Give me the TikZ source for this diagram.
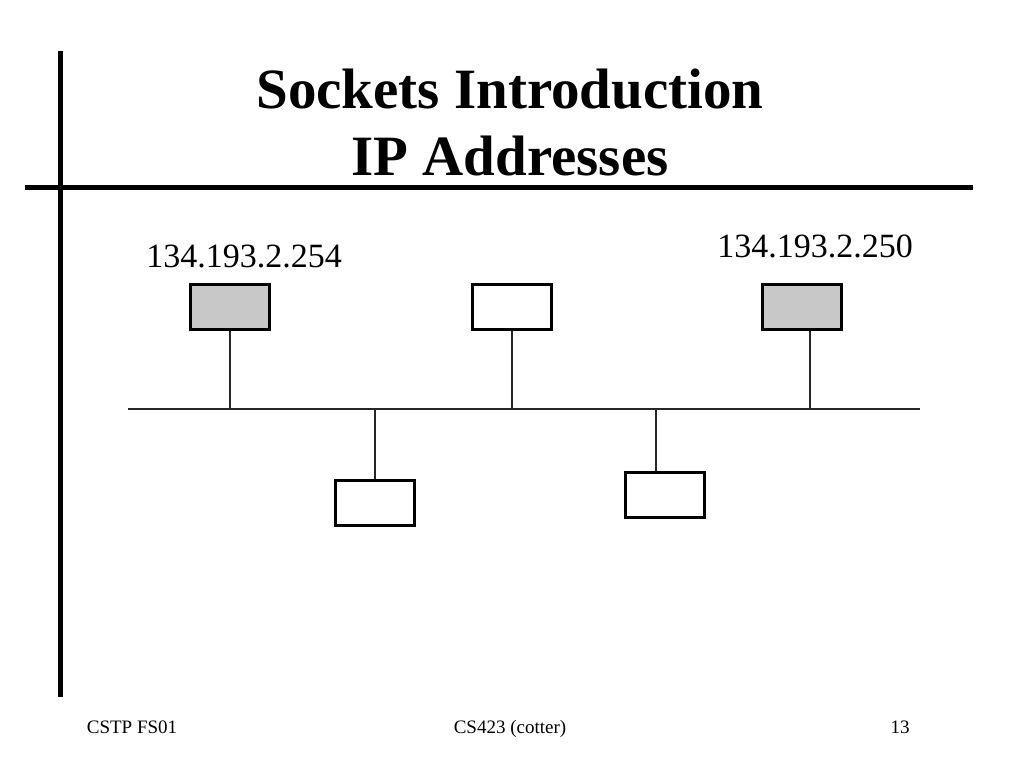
\documentclass[tikz,border=0pt]{standalone}
\usepackage{fontspec}
\setmainfont{Liberation Serif}
\usepackage{tikz}
\usetikzlibrary{positioning}
\definecolor{hostgray}{RGB}{200,200,200}
\tikzset{
x=1pt, y=-1pt, % one unit is one pixel of the slide
host/.style={draw, line width=3pt, minimum width=79pt, minimum height=45pt, inner sep=0pt}, % a machine on the net
known/.style={host, fill=hostgray}, % a machine whose address is shown
wire/.style={line width=1.3pt, draw=black!85}, % the cables
rule/.style={line width=5pt}, % the slide frame
addr/.style={font=\fontsize{34}{38}\selectfont, inner sep=0pt, anchor=base}, % address labels
foot/.style={font=\fontsize{19}{22}\selectfont, inner sep=0pt, anchor=base}, % footer texts
}
\begin{document}
\begin{tikzpicture}
        \useasboundingbox (0,0) rectangle (1024,768);
        % frame
        \draw[rule] (60,51) -- (60,697);
        \draw[rule] (25,187) -- (973,187);
        % title
        \node[font=\bfseries\fontsize{57}{67}\selectfont, align=center, inner sep=0pt, anchor=base] (title) at (510,175) {Sockets Introduction\\IP Addresses};

        % hosts
        \node[known] (h1) at (230,307) {};
        \node[host] (h2) at (512,307) {};
        \node[known] (h3) at (802,307) {};
        \node[host] (h4) at (375,503) {};
        \node[host] (h5) at (665,495) {};
        \node[addr] (a1) at (244,267) {134.193.2.254};
        \node[addr] (a3) at (815,257) {134.193.2.250};

        % bus
        \coordinate (busL) at (128,409);
        \coordinate (busR) at (920,409);
        \coordinate (t1) at (230,409);
        \coordinate (t2) at (512,409);
        \coordinate (t3) at (810,409);
        \coordinate (t4) at (375,409);
        \coordinate (t5) at (656,409);
        \draw[wire] (busL) -- (busR);
        \draw[wire] (h1) -- (t1)
                    (h2) -- (t2)
                    (h3.south -| t3) -- (t3)
                    (h4) -- (t4)
                    (h5.north -| t5) -- (t5);

        % footer
        \node[foot] (f1) at (132,733) {CSTP FS01};
        \node[foot] (f2) at (510,733) {CS423 (cotter)};
        \node[foot] (f3) at (900,733) {13};
    \end{tikzpicture}
\end{document}
